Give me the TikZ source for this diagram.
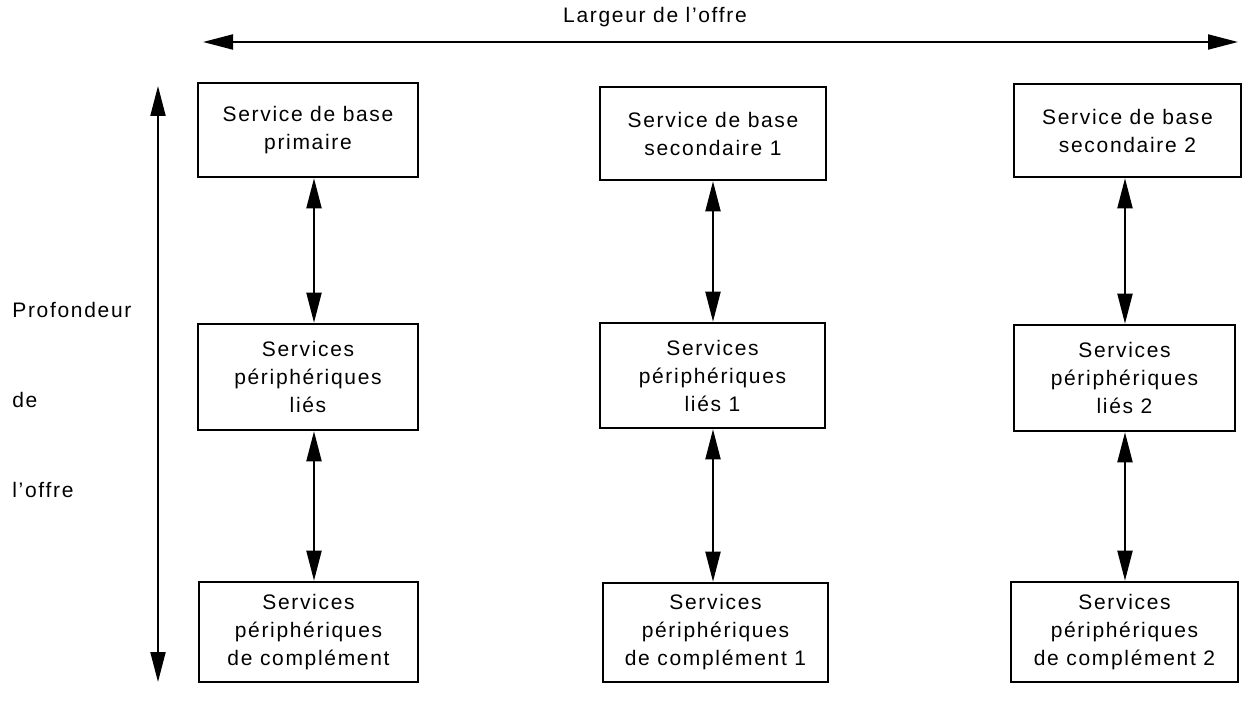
\documentclass[tikz,border=0pt]{standalone}
\usepackage{fontspec}
\setmainfont{Liberation Sans}[LetterSpace=8.0]
\usetikzlibrary{arrows.meta}
\begin{document}
\begin{tikzpicture}[x=0.5pt,y=-0.5pt,
  box/.style={draw,line width=1.3pt,rectangle,inner sep=0pt,align=center,
    font=\fontsize{10.5}{14}\selectfont},
  lbl/.style={inner sep=0pt,font=\fontsize{10.5}{14}\selectfont},
  arr/.style={line width=1pt,{Triangle[length=15pt,width=7.5pt]}-{Triangle[length=15pt,width=7.5pt]}}]
\useasboundingbox (0,0) rectangle (1249,717);
% column axes
\coordinate (a1) at (314,0);
\coordinate (a2) at (713,0);
\coordinate (a3) at (1125,0);
% big arrows
\coordinate (hl) at (203,42);
\coordinate (hr) at (1238,42);
\coordinate (vt) at (158,86);
\coordinate (vb) at (158,682);
\draw[arr] (hl) -- (hr);
\draw[arr] (vt) -- (vb);
\node[lbl] (larg) at (655,17) {Largeur de l'offre};
\node[lbl,anchor=west] (prof) at (12,310) {Profondeur};
\node[lbl,anchor=west] (de) at (12,400) {de};
\node[lbl,anchor=west] (off) at (12,490) {l'offre};
% column 1
\node[box,minimum width=110pt,minimum height=47pt] (t1) at (308,130) {Service de base\\primaire};
\node[box,minimum width=110pt,minimum height=53pt] (m1) at (308,377) {Services\\périphériques\\liés};
\node[box,minimum width=109.5pt,minimum height=50pt] (b1) at (308.5,632) {Services\\périphériques\\de complément};
% column 2
\node[box,minimum width=113pt,minimum height=46.5pt] (t2) at (713,133.5) {Service de base\\secondaire 1};
\node[box,minimum width=112.5pt,minimum height=52.5pt] (m2) at (712.5,375.5) {Services\\périphériques\\liés 1};
\node[box,minimum width=112.5pt,minimum height=49.5pt] (b2) at (715.5,632.5) {Services\\périphériques\\de complément 1};
% column 3
\node[box,minimum width=113.5pt,minimum height=46.5pt] (t3) at (1127.5,130.5) {Service de base\\secondaire 2};
\node[box,minimum width=110.5pt,minimum height=53pt] (m3) at (1124.5,378) {Services\\périphériques\\liés 2};
\node[box,minimum width=113.5pt,minimum height=50pt] (b3) at (1124.5,632) {Services\\périphériques\\de complément 2};
% connectors
\draw[arr] (t1.south -| a1) -- (m1.north -| a1);
\draw[arr] (m1.south -| a1) -- (b1.north -| a1);
\draw[arr] (t2.south -| a2) -- (m2.north -| a2);
\draw[arr] (m2.south -| a2) -- (b2.north -| a2);
\draw[arr] (t3.south -| a3) -- (m3.north -| a3);
\draw[arr] (m3.south -| a3) -- (b3.north -| a3);
\end{tikzpicture}
\end{document}
